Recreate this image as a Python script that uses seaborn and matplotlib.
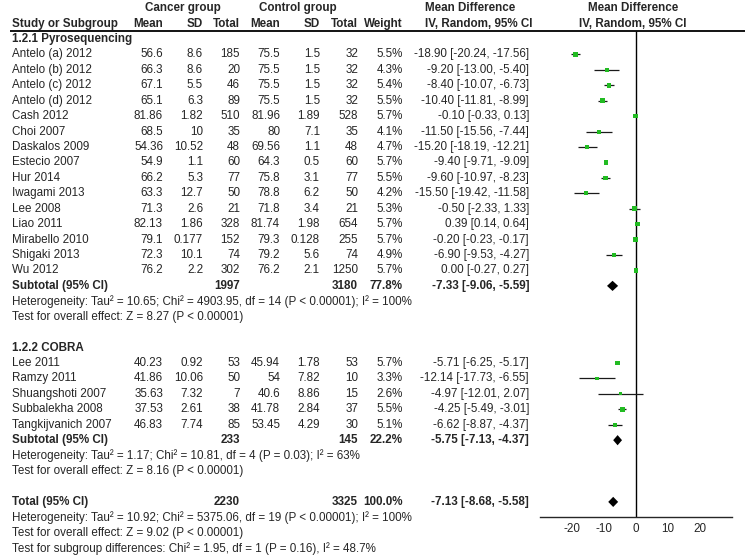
import numpy as np
import pandas as pd
import matplotlib
matplotlib.use('Agg')
import matplotlib.pyplot as plt
import seaborn as sns

sns.set_style('white')
plt.rcParams['font.family'] = ['Liberation Sans', 'DejaVu Sans']
plt.rcParams['font.size'] = 8.4

# ---- data ----
pyro_study = ['Antelo (a) 2012', 'Antelo (b) 2012', 'Antelo (c) 2012', 'Antelo (d) 2012',
              'Cash 2012', 'Choi 2007', 'Daskalos 2009', 'Estecio 2007', 'Hur 2014',
              'Iwagami 2013', 'Lee 2008', 'Liao 2011', 'Mirabello 2010', 'Shigaki 2013', 'Wu 2012']
pyro_ca_mean = [56.6, 66.3, 67.1, 65.1, 81.86, 68.5, 54.36, 54.9, 66.2, 63.3, 71.3, 82.13, 79.1, 72.3, 76.2]
pyro_ca_sd = [8.6, 8.6, 5.5, 6.3, 1.82, 10, 10.52, 1.1, 5.3, 12.7, 2.6, 1.86, 0.177, 10.1, 2.2]
pyro_ca_n = [185, 20, 46, 89, 510, 35, 48, 60, 77, 50, 21, 328, 152, 74, 302]
pyro_co_mean = [75.5, 75.5, 75.5, 75.5, 81.96, 80, 69.56, 64.3, 75.8, 78.8, 71.8, 81.74, 79.3, 79.2, 76.2]
pyro_co_sd = [1.5, 1.5, 1.5, 1.5, 1.89, 7.1, 1.1, 0.5, 3.1, 6.2, 3.4, 1.98, 0.128, 5.6, 2.1]
pyro_co_n = [32, 32, 32, 32, 528, 35, 48, 60, 77, 50, 21, 654, 255, 74, 1250]
pyro_weight = [5.5, 4.3, 5.4, 5.5, 5.7, 4.1, 4.7, 5.7, 5.5, 4.2, 5.3, 5.7, 5.7, 4.9, 5.7]
pyro_md = [-18.90, -9.20, -8.40, -10.40, -0.10, -11.50, -15.20, -9.40, -9.60, -15.50, -0.50, 0.39, -0.20, -6.90, 0.00]
pyro_lo = [-20.24, -13.00, -10.07, -11.81, -0.33, -15.56, -18.19, -9.71, -10.97, -19.42, -2.33, 0.14, -0.23, -9.53, -0.27]
pyro_hi = [-17.56, -5.40, -6.73, -8.99, 0.13, -7.44, -12.21, -9.09, -8.23, -11.58, 1.33, 0.64, -0.17, -4.27, 0.27]

cobra_study = ['Lee 2011', 'Ramzy 2011', 'Shuangshoti 2007', 'Subbalekha 2008', 'Tangkijvanich 2007']
cobra_ca_mean = [40.23, 41.86, 35.63, 37.53, 46.83]
cobra_ca_sd = [0.92, 10.06, 7.32, 2.61, 7.74]
cobra_ca_n = [53, 50, 7, 38, 85]
cobra_co_mean = [45.94, 54, 40.6, 41.78, 53.45]
cobra_co_sd = [1.78, 7.82, 8.86, 2.84, 4.29]
cobra_co_n = [53, 10, 15, 37, 30]
cobra_weight = [5.7, 3.3, 2.6, 5.5, 5.1]
cobra_md = [-5.71, -12.14, -4.97, -4.25, -6.62]
cobra_lo = [-6.25, -17.73, -12.01, -5.49, -8.87]
cobra_hi = [-5.17, -6.55, 2.07, -3.01, -4.37]

group_title = ['1.2.1 Pyrosequencing', '1.2.2 COBRA']
group_ca_total = [1997, 233]
group_co_total = [3180, 145]
group_weight = [77.8, 22.2]
group_md = [-7.33, -5.75]
group_lo = [-9.06, -7.13]
group_hi = [-5.59, -4.37]
group_het = ['Heterogeneity: Tau\u00b2 = 10.65; Chi\u00b2 = 4903.95, df = 14 (P < 0.00001); I\u00b2 = 100%',
             'Heterogeneity: Tau\u00b2 = 1.17; Chi\u00b2 = 10.81, df = 4 (P = 0.03); I\u00b2 = 63%']
group_z = ['Test for overall effect: Z = 8.27 (P < 0.00001)',
           'Test for overall effect: Z = 8.16 (P < 0.00001)']

total_ca, total_co, total_weight = 2230, 3325, 100.0
total_md, total_lo, total_hi = -7.13, -8.68, -5.58
total_notes = ['Heterogeneity: Tau\u00b2 = 10.92; Chi\u00b2 = 5375.06, df = 19 (P < 0.00001); I\u00b2 = 100%',
               'Test for overall effect: Z = 9.02 (P < 0.00001)',
               'Test for subgroup differences: Chi\u00b2 = 1.95, df = 1 (P = 0.16), I\u00b2 = 48.7%']
x_ticks = [-20, -10, 0, 10, 20]

groups = [
    dict(study=pyro_study, ca_mean=pyro_ca_mean, ca_sd=pyro_ca_sd, ca_n=pyro_ca_n,
         co_mean=pyro_co_mean, co_sd=pyro_co_sd, co_n=pyro_co_n, weight=pyro_weight,
         md=pyro_md, lo=pyro_lo, hi=pyro_hi),
    dict(study=cobra_study, ca_mean=cobra_ca_mean, ca_sd=cobra_ca_sd, ca_n=cobra_ca_n,
         co_mean=cobra_co_mean, co_sd=cobra_co_sd, co_n=cobra_co_n, weight=cobra_weight,
         md=cobra_md, lo=cobra_lo, hi=cobra_hi),
]

# ---- layout (pixel columns, one row index per text line) ----
W, H = 745, 558
ROW0_PX, ROW_PX = 39, 15.43
ylim = ((H - ROW0_PX) / ROW_PX, -ROW0_PX / ROW_PX)
X_NAME = 12
X_COLS = [163, 203, 240, 280, 320, 358, 403, 529]

fig = plt.figure(figsize=(W / 100, H / 100), dpi=100)
tab = fig.add_axes([0, 0, 1, 1])
tab.set_xlim(0, W)
tab.set_ylim(*ylim)
tab.axis('off')

fax = fig.add_axes([540 / W, 0, 192 / W, 1])
fax.set_ylim(*ylim)
fax.set_xlim(-30, 30)
fax.patch.set_alpha(0)


def txt(x, row, s, bold=False, ha='right'):
    tab.text(x, row, s, ha=ha, va='center', fontweight='bold' if bold else 'normal')


def fmt_ci(m, l, h):
    return f'{m:.2f} [{l:.2f}, {h:.2f}]'


def diamond(row, m, l, h):
    fax.fill([l, m, h, m], [row, row - 0.33, row, row + 0.33], color='black', lw=0, zorder=4)


# header
txt(183, -2, 'Cancer group', True, 'center')
txt(298, -2, 'Control group', True, 'center')
txt(425, -2, 'Mean Difference', True, 'left')
txt(633, -2, 'Mean Difference', True, 'center')
txt(X_NAME, -1, 'Study or Subgroup', True, 'left')
for x, s in zip(X_COLS[:7], ['Mean', 'SD', 'Total', 'Mean', 'SD', 'Total', 'Weight']):
    txt(x, -1, s, True)
txt(425, -1, 'IV, Random, 95% CI', True, 'left')
txt(633, -1, 'IV, Random, 95% CI', True, 'center')
tab.hlines(-0.52, 10, W, color='black', lw=1.3)

points = []
row = 0
for g, grp in enumerate(groups):
    txt(X_NAME, row, group_title[g], True, 'left')
    row += 1
    for i, name in enumerate(grp['study']):
        txt(X_NAME, row, name, ha='left')
        vals = [f"{grp['ca_mean'][i]:g}", f"{grp['ca_sd'][i]:g}", str(grp['ca_n'][i]),
                f"{grp['co_mean'][i]:g}", f"{grp['co_sd'][i]:g}", str(grp['co_n'][i]),
                f"{grp['weight'][i]:.1f}%", fmt_ci(grp['md'][i], grp['lo'][i], grp['hi'][i])]
        for x, s in zip(X_COLS, vals):
            txt(x, row, s)
        points.append(dict(row=row, md=grp['md'][i], lo=grp['lo'][i], hi=grp['hi'][i],
                           weight=grp['weight'][i]))
        row += 1
    txt(X_NAME, row, 'Subtotal (95% CI)', True, 'left')
    txt(X_COLS[2], row, str(group_ca_total[g]), True)
    txt(X_COLS[5], row, str(group_co_total[g]), True)
    txt(X_COLS[6], row, f'{group_weight[g]:.1f}%', True)
    txt(X_COLS[7], row, fmt_ci(group_md[g], group_lo[g], group_hi[g]), True)
    diamond(row, group_md[g], group_lo[g], group_hi[g])
    txt(X_NAME, row + 1, group_het[g], ha='left')
    txt(X_NAME, row + 2, group_z[g], ha='left')
    row += 4

txt(X_NAME, row, 'Total (95% CI)', True, 'left')
txt(X_COLS[2], row, str(total_ca), True)
txt(X_COLS[5], row, str(total_co), True)
txt(X_COLS[6], row, f'{total_weight:.1f}%', True)
txt(X_COLS[7], row, fmt_ci(total_md, total_lo, total_hi), True)
diamond(row, total_md, total_lo, total_hi)
for k, note in enumerate(total_notes):
    txt(X_NAME, row + 1 + k, note, ha='left')
axis_row = row + 1

# ---- forest panel ----
pts = pd.DataFrame(points)
fax.hlines(pts['row'], pts['lo'], pts['hi'], color='#1a1a1a', lw=0.9, zorder=2)
sns.scatterplot(data=pts, x='md', y='row', size='weight', sizes=(4, 12), size_norm=(2.5, 6),
                marker='s', color='#22bb22', linewidth=0, legend=False, ax=fax, zorder=3)
fax.vlines(0, -0.52, axis_row, color='black', lw=1.0, zorder=1)

for side in ['top', 'left', 'right']:
    fax.spines[side].set_visible(False)
fax.spines['bottom'].set_position(('data', axis_row))
fax.spines['bottom'].set_linewidth(1.0)
fax.set_xticks(x_ticks)
fax.set_xticklabels([str(t) for t in x_ticks])
fax.tick_params(axis='x', direction='inout', length=6, width=1.0, pad=1, labelsize=8.4)
fax.set_yticks([])
fax.set_xlabel('')
fax.set_ylabel('')

fig.savefig('out.png', dpi=100)
